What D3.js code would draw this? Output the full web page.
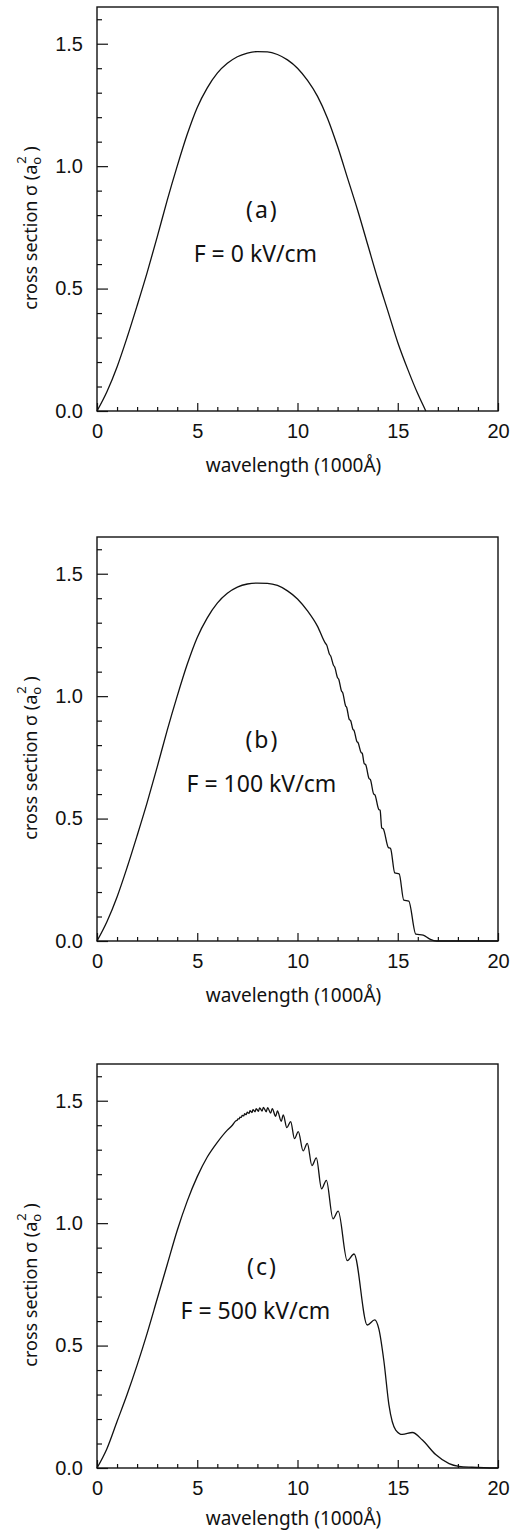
<!DOCTYPE html>
<html>
<head>
<meta charset="utf-8">
<style>
    body { margin: 0; background: #fff; }
    svg { display: block; font-family: 'Noto Sans', Arial, sans-serif; }
    .tick text { font-size: 20px; fill: #111; }
    .tick line { stroke: #111; stroke-width: 1.2; }
</style>
</head>
<body>
<svg width="517" height="1530"></svg>

<script src="https://d3js.org/d3.v7.min.js"></script>
<script>
    //------------------------ DATA ------------------------//
    // wavelength in units of 1000 Å, cross section in a0^2
    let wavelengthA = [0, 0.5, 1, 1.5, 2, 2.5, 3, 3.5, 4, 4.5, 5, 5.5, 6, 6.5, 7, 7.5, 8, 8.5,
        9, 9.5, 10, 10.5, 11, 11.5, 12, 12.5, 13, 13.5, 14, 14.5, 15, 15.5, 16, 16.4]
    let sigmaA = [0, 0.08, 0.18, 0.3, 0.43, 0.565, 0.71, 0.86, 1.0, 1.13, 1.24, 1.32, 1.38, 1.42, 1.447, 1.462, 1.468, 1.467,
        1.456, 1.434, 1.40, 1.35, 1.285, 1.195, 1.08, 0.95, 0.82, 0.68, 0.54, 0.41, 0.28, 0.17, 0.07, 0]

    let wavelengthB = [0, 0.5, 1, 1.5, 2, 2.5, 3, 3.5, 4, 4.5, 5, 5.5, 6, 6.5, 7, 7.5, 8, 8.5,
        9, 9.5, 10, 10.5, 11, 11.4, 11.45, 11.6, 11.65, 11.8, 11.85, 12.0, 12.05, 12.2, 12.25, 12.4, 12.45,
        12.58, 12.65, 12.76, 12.82, 12.96, 13.02, 13.17, 13.23, 13.33, 13.4, 13.57, 13.63, 13.8, 13.86,
        14.05, 14.12, 14.2, 14.28, 14.53, 14.64, 14.85, 15.07, 15.3, 15.55, 15.9, 16.27, 16.6, 16.94, 20]
    let sigmaB = [0, 0.08, 0.18, 0.3, 0.43, 0.565, 0.71, 0.86, 1.0, 1.13, 1.24, 1.32, 1.38, 1.42, 1.445, 1.458, 1.462, 1.461,
        1.452, 1.43, 1.397, 1.348, 1.285, 1.215, 1.21, 1.17, 1.165, 1.125, 1.12, 1.075, 1.07, 1.02, 1.015, 0.96, 0.955,
        0.905, 0.9, 0.865, 0.86, 0.815, 0.81, 0.77, 0.766, 0.724, 0.72, 0.663, 0.66, 0.6, 0.597,
        0.538, 0.534, 0.462, 0.458, 0.382, 0.378, 0.278, 0.274, 0.167, 0.163, 0.028, 0.024, 0.008, 0, 0]

    let wavelengthC = [0, 0.5, 1, 1.5, 2, 2.5, 3, 3.5, 4, 4.5, 5, 5.5, 6, 6.5, 6.75,
        6.93, 6.99, 7.03, 7.095, 7.13, 7.2, 7.24, 7.32, 7.36, 7.445, 7.49, 7.58, 7.63, 7.73, 7.78, 7.885,
        7.94, 8.05, 8.11, 8.235, 8.3, 8.44, 8.51, 8.66, 8.74, 8.91, 9.0, 9.19, 9.29, 9.47, 9.66, 9.85,
        10.04, 10.28, 10.49, 10.72, 10.94, 11.2, 11.44, 11.77, 12.03, 12.48, 12.82, 13.48, 13.85,
        14.06, 14.31, 14.56, 14.9, 15.23, 15.73, 16.23, 16.89, 17.56, 18.05, 18.7, 19.3, 20]
    let sigmaC = [0, 0.08, 0.19, 0.3, 0.42, 0.55, 0.69, 0.83, 0.97, 1.09, 1.19, 1.27, 1.33, 1.38, 1.4,
        1.418, 1.42, 1.426, 1.426, 1.433, 1.432, 1.44, 1.438, 1.447, 1.443, 1.453, 1.448, 1.459, 1.452, 1.464, 1.455,
        1.468, 1.457, 1.471, 1.458, 1.473, 1.455, 1.472, 1.449, 1.468, 1.436, 1.458, 1.416, 1.442, 1.39, 1.415, 1.345,
        1.374, 1.295, 1.326, 1.235, 1.267, 1.14, 1.175, 1.018, 1.049, 0.847, 0.874, 0.584, 0.605,
        0.567, 0.436, 0.258, 0.155, 0.137, 0.145, 0.114, 0.055, 0.018, 0.007, 0.003, 0.001, 0]

    let panelLetters = ["(a)", "(b)", "(c)"]
    let fieldLabels = ["F = 0 kV/cm", "F = 100 kV/cm", "F = 500 kV/cm"]

    let xMajorTicks = [0, 5, 10, 15, 20]
    let yMajorTicks = [0, 0.5, 1.0, 1.5]

    //------------------------ LAYOUT ------------------------//
    let svg = d3.select("svg")
    let left = 97, right = 498, panelHeight = 404
    let tops = [7, 537, 1064]
    let titleOffsets = [61, 61, 57]
    let fieldX = [7.9, 8.2, 7.9]

    let panels = [
        {wl: wavelengthA, sig: sigmaA},
        {wl: wavelengthB, sig: sigmaB},
        {wl: wavelengthC, sig: sigmaC}
    ]

    panels.forEach((p, i) => {
        let top = tops[i]
        let bottom = top + panelHeight

        let x = d3.scaleLinear().domain([0, 20]).range([left, right])
        let y = d3.scaleLinear().domain([0, 1.65]).range([bottom, top])

        let g = svg.append("g")

        // minor ticks
        g.append("g")
            .attr("transform", `translate(0,${bottom})`)
            .call(d3.axisBottom(x).tickValues(d3.range(1, 20).filter(d => d % 5 != 0)).tickSize(-4).tickFormat(""))
        g.append("g")
            .attr("transform", `translate(${left},0)`)
            .call(d3.axisLeft(y).tickValues(d3.range(1, 17).map(d => d / 10).filter(d => Math.round(d * 10) % 5 != 0)).tickSize(-5).tickFormat(""))

        // major ticks with labels
        g.append("g")
            .attr("transform", `translate(0,${bottom})`)
            .call(d3.axisBottom(x).tickValues(xMajorTicks).tickSize(-8).tickPadding(13).tickFormat(d3.format("d")))
        g.append("g")
            .attr("transform", `translate(${left},0)`)
            .call(d3.axisLeft(y).tickValues(yMajorTicks).tickSize(-11).tickPadding(14).tickFormat(d3.format(".1f")))

        g.selectAll(".domain").remove()

        // frame
        g.append("rect")
            .attr("x", left).attr("y", top)
            .attr("width", right - left).attr("height", panelHeight)
            .style("fill", "none").style("stroke", "#111").style("stroke-width", 1.4)

        // curve
        let line = d3.line()
            .x(d => x(d[0]))
            .y(d => y(d[1]))
            .curve(d3.curveMonotoneX)
        g.append("path")
            .attr("d", line(d3.zip(p.wl, p.sig)))
            .style("fill", "none").style("stroke", "#111").style("stroke-width", 1.3)

        // axis titles
        g.append("text")
            .attr("x", (left + right) / 2 - 4)
            .attr("y", bottom + titleOffsets[i])
            .attr("text-anchor", "middle")
            .style("font-size", "19px").style("fill", "#111")
            .text("wavelength (1000Å)")

        let yt = g.append("text")
            .attr("transform", `translate(31,${top + 221}) rotate(-90)`)
            .attr("text-anchor", "middle")
            .attr("dy", "0.35em")
            .style("font-size", "18px").style("fill", "#111")
        yt.append("tspan").text("cross section σ (a")
        yt.append("tspan").attr("dy", 4).style("font-size", "13px").text("o")
        yt.append("tspan").attr("dy", -15).attr("dx", -7).style("font-size", "13px").text("2")
        yt.append("tspan").attr("dy", 11).text(" )")

        // annotations
        g.append("text")
            .attr("x", x(8.25)).attr("y", top + 211)
            .attr("text-anchor", "middle")
            .style("font-size", "23px").style("letter-spacing", "2px").style("fill", "#111")
            .text(panelLetters[i])
        g.append("text")
            .attr("x", x(fieldX[i])).attr("y", top + 255)
            .attr("text-anchor", "middle")
            .style("font-size", "23px").style("fill", "#111")
            .text(fieldLabels[i])
    })
</script>
</body>
</html>
